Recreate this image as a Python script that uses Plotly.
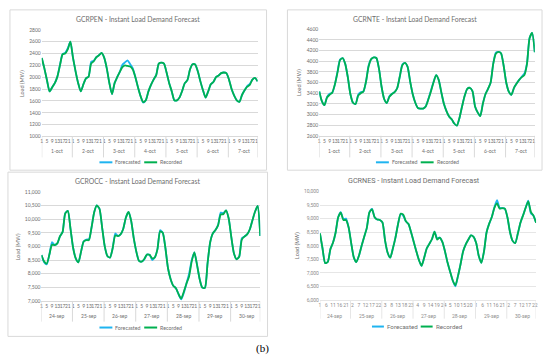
import plotly.graph_objects as go

W, H = 550, 362

# ---------------- data ----------------
sample_hours = [1, 3, 5, 7, 9, 11, 13, 15, 17, 19, 21, 23]
oct_days = ["1-oct", "2-oct", "3-oct", "4-oct", "5-oct", "6-oct", "7-oct"]
sep_days = ["24-sep", "25-sep", "26-sep", "27-sep", "28-sep", "29-sep", "30-sep"]
std_tick_hours = [[1, 5, 9, 13, 17, 21]] * 7
nes_tick_hours = [[1, 6, 11, 16, 21], [2, 7, 12, 17, 22], [3, 8, 13, 18, 23],
                  [4, 9, 14, 19, 24], [5, 10, 15, 20], [1, 6, 11, 16, 21],
                  [2, 7, 12, 17, 22]]

pen_recorded = [
    2324, 2150, 1950, 1760, 1830, 1900, 2010, 2200, 2385, 2400, 2470, 2600,
    2330, 2100, 1900, 1760, 1880, 1980, 2010, 2230, 2270, 2340, 2370, 2410,
    2330, 2150, 1900, 1714, 1900, 2000, 2090, 2170, 2200, 2190, 2180, 2130,
    2000, 1830, 1680, 1580, 1610, 1758, 1870, 1960, 2035, 2230, 2246, 2230,
    2080, 1900, 1760, 1610, 1610, 1660, 1770, 1900, 1950, 2130, 2220, 2215,
    2100, 1930, 1780, 1655, 1760, 1880, 1920, 2000, 2030, 2070, 2080, 2070,
    1960, 1800, 1690, 1610, 1585, 1700, 1780, 1840, 1870, 1960, 1990, 1930]
pen_forecasted = [
    2324, 2150, 1950, 1760, 1830, 1900, 2010, 2210, 2390, 2410, 2490, 2600,
    2330, 2100, 1900, 1760, 1880, 1980, 2010, 2260, 2280, 2340, 2370, 2410,
    2330, 2150, 1900, 1714, 1900, 2000, 2090, 2210, 2250, 2285, 2220, 2150,
    2000, 1830, 1680, 1570, 1610, 1758, 1870, 1960, 2035, 2230, 2246, 2230,
    2080, 1900, 1760, 1610, 1610, 1660, 1770, 1900, 1950, 2130, 2220, 2215,
    2100, 1930, 1780, 1655, 1760, 1880, 1920, 2000, 2030, 2070, 2080, 2070,
    1960, 1800, 1690, 1610, 1585, 1700, 1780, 1850, 1890, 1960, 1990, 1930]

nte_recorded = [
    3431, 3250, 3175, 3320, 3370, 3410, 3560, 3780, 4020, 4058, 3950, 3700,
    3380, 3220, 3197, 3357, 3400, 3431, 3615, 3900, 4040, 4070, 4060, 3860,
    3520, 3290, 3215, 3330, 3385, 3420, 3492, 3708, 3923, 3970, 3900, 3620,
    3380, 3220, 3120, 3111, 3111, 3150, 3280, 3430, 3600, 3740, 3650, 3420,
    3200, 3062, 2960, 2910, 2830, 2790, 2935, 3150, 3350, 3480, 3500, 3440,
    3150, 3040, 2970, 3200, 3380, 3480, 3600, 3950, 4140, 4175, 4150, 3920,
    3600, 3430, 3370, 3500, 3580, 3650, 3700, 3740, 3950, 4430, 4530, 4170]
nte_forecasted = [
    3431, 3250, 3175, 3330, 3390, 3410, 3560, 3800, 4030, 4058, 3950, 3700,
    3380, 3220, 3197, 3370, 3420, 3431, 3615, 3920, 4040, 4070, 4060, 3860,
    3520, 3290, 3215, 3340, 3390, 3420, 3492, 3708, 3940, 3970, 3900, 3620,
    3380, 3220, 3120, 3111, 3111, 3150, 3290, 3450, 3610, 3740, 3650, 3420,
    3200, 3062, 2960, 2910, 2830, 2790, 2935, 3150, 3350, 3480, 3500, 3440,
    3150, 3040, 2970, 3200, 3380, 3480, 3600, 3950, 4160, 4175, 4150, 3920,
    3600, 3430, 3370, 3500, 3580, 3650, 3710, 3770, 3960, 4440, 4530, 4170]

occ_recorded = [
    8682, 8450, 8370, 8700, 9060, 9050, 9110, 9370, 9522, 10200, 10300, 9650,
    8950, 8560, 8418, 8800, 9180, 9230, 9230, 9700, 10250, 10500, 10380, 9700,
    9000, 8650, 8590, 8930, 9400, 9380, 9440, 9640, 10050, 10260, 9950, 9300,
    8800, 8466, 8442, 8540, 8700, 8690, 8560, 8600, 8900, 9550, 9500, 8950,
    8200, 7800, 7560, 7470, 7250, 7090, 7340, 7640, 7900, 8450, 8780, 8330,
    7800, 7490, 7480, 8380, 9150, 9480, 9600, 9780, 10170, 10183, 10320, 10030,
    9350, 8750, 8530, 8620, 9250, 9360, 9440, 9620, 9950, 10270, 10480, 9380]
occ_forecasted = [
    8682, 8420, 8340, 8700, 9160, 9050, 9110, 9370, 9522, 10220, 10300, 9650,
    8950, 8560, 8418, 8800, 9180, 9250, 9260, 9700, 10250, 10500, 10380, 9700,
    9000, 8650, 8590, 8930, 9480, 9380, 9440, 9640, 10050, 10260, 9950, 9300,
    8800, 8466, 8442, 8520, 8700, 8690, 8500, 8600, 8900, 9600, 9500, 8950,
    8200, 7800, 7560, 7470, 7250, 7060, 7300, 7640, 8000, 8500, 8780, 8330,
    7800, 7490, 7480, 8380, 9150, 9480, 9600, 9780, 10240, 10220, 10320, 10030,
    9350, 8750, 8530, 8620, 9300, 9360, 9440, 9620, 9950, 10270, 10480, 9380]

nes_recorded = [
    8454, 7900, 7360, 7400, 7870, 8110, 8480, 9050, 9220, 8950, 8950, 8680,
    8100, 7570, 7400, 7640, 8000, 8330, 8660, 9230, 9340, 9050, 8970, 8950,
    8860, 8200, 7740, 7560, 7900, 8300, 8800, 9180, 9150, 8900, 8800, 8500,
    8150, 7800, 7480, 7260, 7550, 7900, 8070, 8240, 8520, 8230, 8300, 8140,
    7800, 7380, 7040, 6720, 6540, 6880, 7320, 7800, 8050, 8230, 8380, 8330,
    8100, 7620, 7370, 7790, 8500, 8816, 9058, 9400, 9560, 9370, 9384, 9370,
    9050, 8500, 8180, 8100, 8450, 8850, 9120, 9400, 9640, 9250, 9110, 8850]
nes_forecasted = [
    8454, 7900, 7360, 7400, 7870, 8110, 8480, 9050, 9240, 8980, 9000, 8680,
    8100, 7570, 7400, 7640, 8000, 8330, 8660, 9230, 9360, 9050, 8970, 8950,
    8860, 8200, 7740, 7560, 7900, 8300, 8800, 9180, 9100, 8900, 8800, 8500,
    8150, 7800, 7480, 7260, 7550, 7900, 8070, 8240, 8520, 8280, 8300, 8140,
    7800, 7380, 7040, 6720, 6500, 6880, 7320, 7800, 8050, 8230, 8380, 8330,
    8100, 7620, 7370, 7790, 8500, 8816, 9058, 9420, 9680, 9400, 9384, 9370,
    9050, 8500, 8180, 8100, 8450, 8850, 9120, 9400, 9660, 9200, 9110, 8850]

titles = ["GCRPEN - Instant Load Demand Forecast", "GCRNTE - Instant Load Demand Forecast",
          "GCROCC - Instant Load Demand Forecast", "GCRNES - Instant Load Demand Forecast"]
series_names = ["Forecasted", "Recorded"]
y_title = "Load (MW)"
caption = "(b)"

# ---------------- style ----------------
BLUE = "#1FB4F0"
GREEN = "#00B050"
EXCEL_FONT = "Lato, 'Liberation Sans', sans-serif"
NES_FONT = "Roboto, 'Liberation Sans', sans-serif"


def fx(p):
    return p / W


def fy(p):
    return 1 - p / H


panels = [
    dict(title=titles[0], days=oct_days, ticks=std_tick_hours, rec=pen_recorded, fc=pen_forecasted,
         yr=[1000, 2800], dt=200, fmt="d", box=(9, 7, 267, 170), plot=(41, 27.3, 258, 135.7),
         title_y=16, ytx=21, day_y=151, sep_b=157, leg_y=162, leg_cx=139, font=EXCEL_FONT,
         txt="#6E6E6E", grid="#D9D9D9", tick_txt="#6E6E6E", tsize=6.8,
         leg=(-40, 5, 13, 5.3)),
    dict(title=titles[1], days=oct_days, ticks=std_tick_hours, rec=nte_recorded, fc=nte_forecasted,
         yr=[2600, 4600], dt=200, fmt="d", box=(288, 7, 544, 170), plot=(320, 26.7, 536.7, 135),
         title_y=16, ytx=299, day_y=151, sep_b=157, leg_y=162, leg_cx=417, font=EXCEL_FONT,
         txt="#6E6E6E", grid="#D9D9D9", tick_txt="#6E6E6E", tsize=6.8,
         leg=(-40, 5, 13, 5.3)),
    dict(title=titles[2], days=sep_days, ticks=std_tick_hours, rec=occ_recorded, fc=occ_forecasted,
         yr=[7000, 11000], dt=500, fmt=",d", box=(7, 172, 268, 339), plot=(40.7, 192, 260.7, 303),
         title_y=181, ytx=17, day_y=318, sep_b=324, leg_y=330, leg_cx=139, font=EXCEL_FONT,
         txt="#6E6E6E", grid="#D9D9D9", tick_txt="#6E6E6E", tsize=6.8,
         leg=(-40, 5, 13, 5.3)),
    dict(title=titles[3], days=sep_days, ticks=nes_tick_hours, rec=nes_recorded, fc=nes_forecasted,
         yr=[6000, 10000], dt=500, fmt=",d", box=None, plot=(320.7, 191.7, 538, 302),
         title_y=180, ytx=298, day_y=318, sep_b=321, leg_y=329, leg_cx=417, font=NES_FONT,
         txt="#6E6E6E", grid="#E6E6E6", tick_txt="#8C8C8C", tsize=7.2,
         leg=(-44, 5, 12, 6.2)),
]

fig = go.Figure()
shapes = []
annotations = []
layout_axes = {}

for i, p in enumerate(panels):
    n = "" if i == 0 else str(i + 1)
    xa, ya = "x" + n, "y" + n
    xs = [d * 24 + h - 1 for d in range(len(p["days"])) for h in sample_hours]
    x_end = xs[-1]
    for vals, col, name in ((p["fc"], BLUE, series_names[0]), (p["rec"], GREEN, series_names[1])):
        fig.add_trace(go.Scatter(x=xs, y=vals, mode="lines", name=name,
                                 line=dict(color=col, width=1.8, shape="spline", smoothing=0.6),
                                 xaxis=xa, yaxis=ya, showlegend=False, hoverinfo="skip"))
    tickvals = [d * 24 + h - 1 for d, hrs in enumerate(p["ticks"]) for h in hrs]
    ticktext = [str(h) for hrs in p["ticks"] for h in hrs]
    l, t, r, b = p["plot"]
    layout_axes["xaxis" + n] = dict(
        domain=[fx(l), fx(r)], range=[0, x_end], tickvals=tickvals, ticktext=ticktext,
        tickfont=dict(size=5, color=p["tick_txt"], family=p["font"]), tickangle=0,
        showgrid=False, zeroline=False, showline=True, linecolor=p["grid"], linewidth=1,
        ticks="", anchor=ya, fixedrange=True)
    layout_axes["yaxis" + n] = dict(
        domain=[fy(b), fy(t)], range=p["yr"], dtick=p["dt"], tickformat=p["fmt"],
        tickfont=dict(size=5, color=p["tick_txt"], family=p["font"]),
        gridcolor=p["grid"], gridwidth=1, zeroline=False, showline=False, ticks="",
        anchor=xa, fixedrange=True)

    # box
    if p["box"]:
        bl, bt, br, bb = p["box"]
        shapes.append(dict(type="rect", xref="paper", yref="paper", x0=fx(bl), x1=fx(br),
                           y0=fy(bb), y1=fy(bt), line=dict(color="#D9D9D9", width=1)))
    # category separators
    seps = [0] + [24 * k - 0.5 for k in range(1, len(p["days"]))] + [x_end]
    for s in seps:
        shapes.append(dict(type="line", xref=xa, yref="paper", x0=s, x1=s,
                           y0=fy(b), y1=fy(p["sep_b"]), line=dict(color=p["grid"], width=1)))
    # day labels
    for d, lab in enumerate(p["days"]):
        annotations.append(dict(x=d * 24 + 11.5, y=fy(p["day_y"]), xref=xa, yref="paper",
                                text=lab, showarrow=False, xanchor="center", yanchor="middle",
                                font=dict(size=5, color=p["tick_txt"], family=p["font"])))
    # title
    cx = (p["box"][0] + p["box"][2]) / 2 if p["box"] else 415
    annotations.append(dict(x=fx(cx), y=fy(p["title_y"]), xref="paper", yref="paper",
                            text=p["title"], showarrow=False, xanchor="center", yanchor="middle",
                            font=dict(size=p["tsize"], color=p["txt"], family=p["font"])))
    # y title
    annotations.append(dict(x=fx(p["ytx"]), y=fy((t + b) / 2), xref="paper", yref="paper",
                            text=y_title, showarrow=False, textangle=-90, xanchor="center",
                            yanchor="middle",
                            font=dict(size=5.5, color=p["txt"], family=p["font"])))
    # legend (manual)
    cxl = p["leg_cx"]
    ly = fy(p["leg_y"])
    off1, off2, llen, lfs = p["leg"]
    items = [(series_names[0], BLUE, cxl + off1), (series_names[1], GREEN, cxl + off2)]
    for name, col, x0 in items:
        shapes.append(dict(type="line", xref="paper", yref="paper", x0=fx(x0), x1=fx(x0 + llen),
                           y0=ly, y1=ly, line=dict(color=col, width=2)))
        annotations.append(dict(x=fx(x0 + llen + 1), y=ly, xref="paper", yref="paper", text=name,
                                showarrow=False, xanchor="left", yanchor="middle",
                                font=dict(size=lfs, color=p["txt"], family=p["font"])))

annotations.append(dict(x=fx(263), y=fy(351), xref="paper", yref="paper", text=caption,
                        showarrow=False, xanchor="center", yanchor="middle",
                        font=dict(size=11, color="#000000",
                                  family="'Liberation Serif', 'DejaVu Serif', serif")))

fig.update_layout(width=W, height=H, autosize=False, margin=dict(l=0, r=0, t=0, b=0),
                  paper_bgcolor="white", plot_bgcolor="white", shapes=shapes,
                  annotations=annotations, **layout_axes)

fig.write_html("out.html", config={"displayModeBar": False},
               post_script="document.body.style.margin='0';document.body.style.padding='0';")
